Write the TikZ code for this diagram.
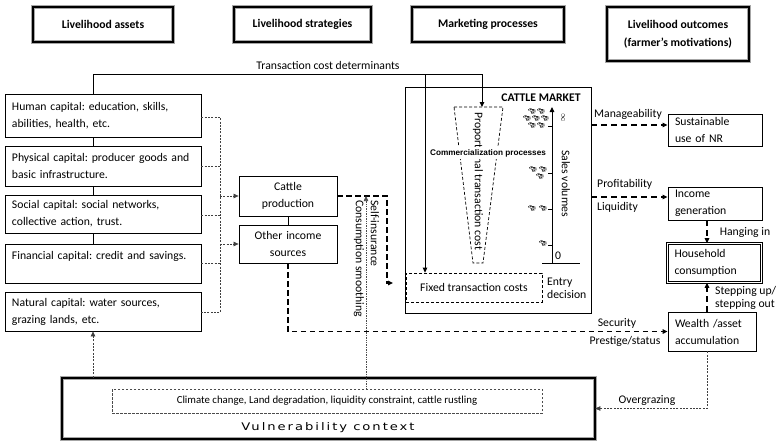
\documentclass[tikz,border=0pt]{standalone}
\usepackage{fontspec}
\usepackage{graphicx}
\setmainfont{Carlito}
\newfontfamily\arialfont{Liberation Sans}
\newfontfamily\vulnfont{DejaVu Sans}[LetterSpace=15]
\newfontfamily\emo{Noto Emoji}
\usetikzlibrary{arrows.meta}
\frenchspacing
\newcommand\bodyfs{\fontsize{11.7pt}{17pt}\selectfont}
\tikzset{
  every node/.style={font=\bodyfs, inner sep=0pt},
  box/.style={draw, line width=0.8pt, inner xsep=7pt, inner ysep=0pt, align=left},
  dblbox/.style={draw=black, line width=0.6pt, double=white, double distance=1.4pt, inner xsep=7pt, inner ysep=0pt, align=left},
  hdr/.style={draw=gray!70, line width=0.6pt, double=black, double distance=2pt, font=\fontsize{11.7pt}{18pt}\selectfont\bfseries, align=center},
  vbox/.style={draw=gray!70, line width=0.6pt, double=black, double distance=2.8pt},
  arr/.style={-{Triangle[length=5pt,width=4.5pt]}},
  tdash/.style={line width=1.4pt, dash pattern=on 5.5pt off 3.5pt},
  odash/.style={line width=1.2pt, dash pattern=on 6pt off 4pt},
  fdot/.style={line width=0.7pt, draw=black!75, dash pattern=on 2pt off 1.3pt},
  fdash/.style={line width=0.7pt, dash pattern=on 3pt off 2pt},
  solidln/.style={line width=1pt},
  cow/.style={font=\emo\fontsize{6pt}{6pt}\selectfont, text=black},
}
\begin{document}
\begin{tikzpicture}[x=1pt,y=-1pt]
\useasboundingbox (0,0) rectangle (777,442);
% headers
\node[hdr, minimum width=140pt, minimum height=35pt] (h1) at (103,24.5) {Livelihood assets};
\node[hdr, minimum width=137pt, minimum height=35pt] (h2) at (302.5,24.5) {Livelihood strategies};
\node[hdr, minimum width=152pt, minimum height=35pt] (h3) at (488,24.5) {Marketing processes};
\node[hdr, minimum width=142pt, minimum height=54pt] (h4) at (678,34) {Livelihood outcomes\\(farmer’s motivations)};
% left column
\node[box, text width=182pt, minimum height=43pt] (human) at (103,115.5) {Human capital: education, skills,\\abilities, health, etc.};
\node[box, text width=182pt, minimum height=40pt] (physical) at (103,166) {Physical capital: producer goods and\\basic infrastructure.};
\node[box, text width=182pt, minimum height=38pt] (social) at (103,214) {Social capital: social networks,\\collective action, trust.};
\node[box, text width=182pt, minimum height=39pt] (financial) at (103,263.5) {Financial capital: credit and savings.\\\mbox{}};
\node[box, text width=182pt, minimum height=39pt] (natural) at (103,311.5) {Natural capital: water sources,\\grazing lands, etc.};
% strategies
\node[box, align=center, text width=84pt, minimum height=40pt] (cattle) at (288,196) {Cattle\\production};
\node[box, align=center, text width=84pt, minimum height=38pt] (other) at (288,244) {Other income\\sources};
% market
\node[draw, line width=0.9pt, minimum width=186pt, minimum height=226pt] (market) at (498,200) {};
\node[font=\bodyfs\bfseries] (cm) at (541,98) {CATTLE MARKET};
\node[draw, fdash, minimum width=136pt, minimum height=29pt] (fixed) at (474,287.5) {Fixed transaction costs};
\node[anchor=west, align=left, font=\fontsize{11.7pt}{13pt}\selectfont] (entry) at (547,288) {Entry\\decision};
% trapezoid
\coordinate (ta) at (454,107);
\coordinate (tb) at (503,107);
\coordinate (tc) at (483,263);
\coordinate (td) at (473,263);
\coordinate (ttop) at (482,107);
\draw[fdash] (ta) -- (tb) -- (tc) -- (td) -- cycle;
\node[rotate=-90, anchor=west] (prop) at (478,112) {Proportional transaction cost};
\node[fill=white, inner xsep=1pt, inner ysep=2pt, font=\arialfont\bfseries\fontsize{8.2pt}{9pt}\selectfont] (comm) at (488,153) {Commercialization processes};
% axis
\coordinate (o) at (552,263);
\coordinate (ytop) at (552,107);
\coordinate (xl) at (542,263);
\coordinate (xr) at (580,263);
\draw[line width=0.9pt, arr] (o) -- (ytop);
\draw[line width=0.9pt] (xl) -- (xr);
\foreach \yy in {126,173,209,245} \draw[line width=0.6pt] (548,\yy) -- (552,\yy);
\node[rotate=-90, font=\fontsize{8pt}{8pt}\selectfont] (inf) at (563,118) {$\infty$};
\node (zero) at (558,256) {0};
\node[rotate=-90, anchor=west] (sales) at (566,150) {Sales volumes};
% cows
\node[cow] (c1) at (532,111) {\char"1F404};
\node[cow] (c2) at (541,111) {\char"1F404};
\node[cow] (c3) at (527,118) {\char"1F404};
\node[cow] (c4) at (536,118) {\char"1F404};
\node[cow] (c5) at (545,118) {\char"1F404};
\node[cow] (c6) at (532,125) {\char"1F404};
\node[cow] (c7) at (541,125) {\char"1F404};
\node[cow] (c8) at (533,169) {\char"1F404};
\node[cow] (c9) at (543,169) {\char"1F404};
\node[cow] (c10) at (540,176) {\char"1F404};
\node[cow] (c11) at (532,208) {\char"1F404};
\node[cow] (c12) at (543,208) {\char"1F404};
\node[cow] (c13) at (543,243) {\char"1F404};
% outcomes
\node[box, text width=80pt, minimum height=32pt] (sust) at (715,130) {Sustainable\\use of NR};
\node[box, text width=80pt, minimum height=33pt] (income) at (715,203.5) {Income\\generation};
\node[dblbox, text width=80pt, minimum height=39pt] (house) at (714.5,263) {Household\\consumption};
\node[box, text width=74pt, minimum height=39pt] (wealth) at (712,331.5) {Wealth /asset\\accumulation};
% vulnerability
\node[vbox, minimum width=533pt, minimum height=61pt] (vuln) at (328.5,408.5) {};
\node[draw=black!70, line width=0.6pt, dash pattern=on 2.5pt off 1.5pt, minimum width=430pt, minimum height=24pt, font=\fontsize{10.8pt}{12pt}\selectfont] (climate) at (327,401) {Climate change, Land degradation, liquidity constraint, cattle rustling};
\node[font=\vulnfont\fontsize{10.5pt}{12pt}\selectfont] (vtxt) at (328,428) {\scalebox{1.25}[1]{Vulnerability context}};
% left column connectors
\draw[solidln] (93,0 |- human.south) -- (93,0 |- physical.north);
\draw[solidln] (93,0 |- physical.south) -- (93,0 |- social.north);
\draw[solidln] (93,0 |- social.south) -- (93,0 |- financial.north);
% transaction cost determinants
\coordinate (tj) at (425,74);
\draw[solidln, arr] (93,0 |- human.north) -- (93,74) -- (482,74) -- (ttop);
\draw[solidln, arr] (tj) -- (425,0 |- fixed.north);
\node (tcd) at (328,65) {Transaction cost determinants};
% dotted asset links
\draw[fdot] (human.east |- 0,117) -- (220,117) -- (220,312) -- (natural.east |- 0,312);
\draw[fdot] (physical.east |- 0,166) -- (220,166);
\draw[fdot] (social.east |- 0,215) -- (220,215);
\draw[fdot] (financial.east |- 0,263) -- (220,263);
\draw[fdot, arr] (220,196) -- (cattle.west);
\draw[fdot, arr] (220,244) -- (other.west);
\draw[solidln] (cattle) -- (other);
% cattle -> fixed
\coordinate (fin) at (393,283);
\draw[tdash, arr] (cattle.east) -- (387,196) -- (387,283) -- (fin);
% self insurance
\coordinate (si) at (366,196);
\draw[line width=0.6pt, draw=black!70, dash pattern=on 1pt off 0.7pt, arr] (366,0 |- climate.north) -- (si);
\node[rotate=-90, anchor=west] (sins) at (375,200) {Self-insurance};
\node[rotate=-90, anchor=west] (cons) at (359,200) {Consumption smoothing};
% other -> wealth
\draw[tdash, arr] (other.south) |- (wealth.west);
\node (sec) at (617,323) {Security};
\node (pst) at (625,341) {Prestige/status};
% outcome links
\draw[odash, arr] (market.east |- 0,125) -- (sust.west |- 0,125);
\draw[odash, arr] (market.east |- 0,197) -- (income.west |- 0,197);
\draw[odash, arr] (707,0 |- income.south) -- (707,0 |- house.north);
\draw[odash, arr] (707,0 |- wealth.north) -- (707,0 |- house.south);
\draw[fdot, arr] (707,0 |- wealth.south) |- (vuln.east);
\draw[fdot, arr] (93,0 |- vuln.north) -- (93,0 |- natural.south);
\node (mg) at (628,114) {Manageability};
\node[anchor=west] (pr) at (597,184) {Profitability};
\node[anchor=west] (lq) at (597,207) {Liquidity};
\node (hi) at (745,232) {Hanging in};
\node[anchor=west] (su) at (715,291) {Stepping up/};
\node[anchor=west] (so) at (715,304) {stepping out};
\node (og) at (647,400) {Overgrazing};
\end{tikzpicture}
\end{document}
